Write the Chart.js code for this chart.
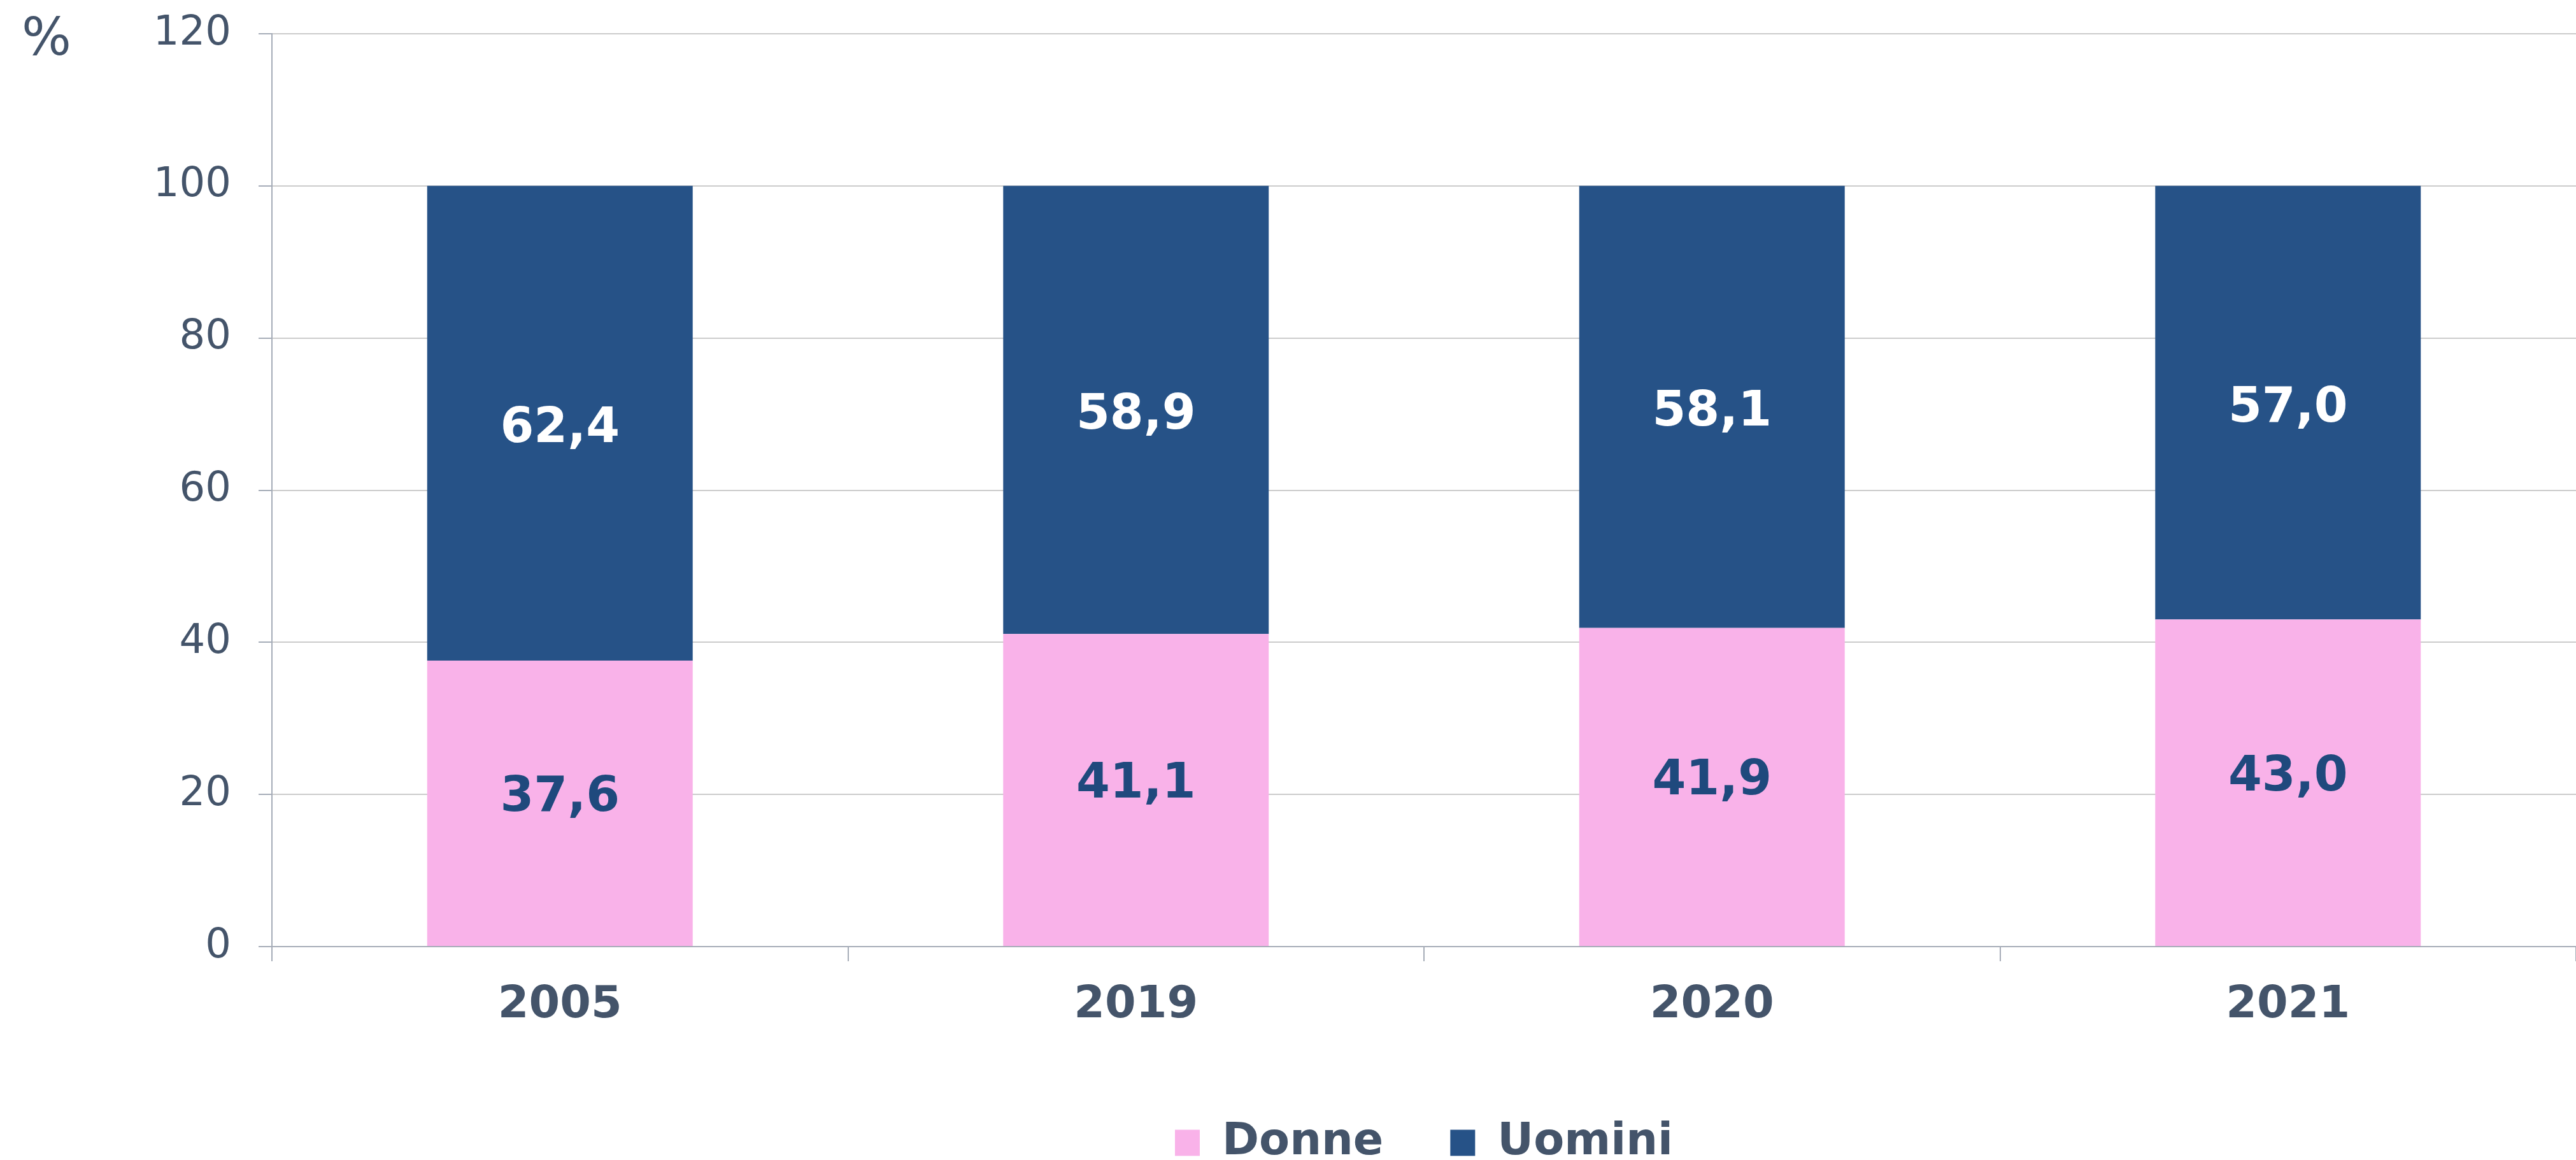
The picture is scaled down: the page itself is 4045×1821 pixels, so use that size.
<!DOCTYPE html>
<html lang="it">
<head>
    <meta charset="UTF-8">
    <title>Donne e Uomini</title>
    <script src="https://cdn.jsdelivr.net/npm/chart.js"></script>
    <style>
        html, body { margin: 0; padding: 0; background: #ffffff; }
        #wrap { width: 4045px; height: 1821px; position: relative; }
    </style>
</head>
<body>
<div id="wrap"><canvas id="chart"></canvas></div>

<script>
// dati
const anni   = ['2005', '2019', '2020', '2021'];
const donne  = [37.6, 41.1, 41.9, 43.0];
const uomini = [62.4, 58.9, 58.1, 57.0];
const yTicks = [0, 20, 40, 60, 80, 100, 120];

const TEXT = '#44546A';
const FONT = 'DejaVu Sans';

// etichette dentro le barre
const etichette = {
    id: 'etichette',
    afterDatasetsDraw(chart) {
        const ctx = chart.ctx;
        ctx.save();
        ctx.font = 'bold 76px "' + FONT + '"';
        ctx.textAlign = 'center';
        ctx.textBaseline = 'middle';
        chart.data.datasets.forEach((ds, i) => {
            const meta = chart.getDatasetMeta(i);
            meta.data.forEach((bar, j) => {
                const v = ds.data[j];
                ctx.fillStyle = ds.labelColor;
                ctx.fillText(v.toFixed(1).replace('.', ','), bar.x, (bar.y + bar.base) / 2 + ds.labelShift);
            });
        });
        ctx.restore();
    }
};

// simbolo % in alto a sinistra
const percento = {
    id: 'percento',
    afterDraw(chart) {
        const ctx = chart.ctx;
        ctx.save();
        ctx.font = '82px "' + FONT + '"';
        ctx.fillStyle = TEXT;
        ctx.textAlign = 'center';
        ctx.textBaseline = 'alphabetic';
        ctx.fillText('%', 73, 86);
        ctx.restore();
    }
};

new Chart(document.getElementById('chart'), {
    type: 'bar',
    data: {
        labels: anni,
        datasets: [
            { label: 'Donne',  data: donne,  backgroundColor: '#F9B2E9', labelColor: '#1F497D', labelShift: -8 },
            { label: 'Uomini', data: uomini, backgroundColor: '#265287', labelColor: '#FFFFFF', labelShift: 10 }
        ]
    },
    options: {
        responsive: true,
        maintainAspectRatio: false,
        animation: false,
        layout: { padding: { top: 53, right: 0, left: 0, bottom: 0 } },
        datasets: { bar: { categoryPercentage: 1.0, barPercentage: 0.461 } },
        scales: {
            x: {
                stacked: true,
                grid: { display: true, drawOnChartArea: false, offset: true, color: '#A6ADB8', tickLength: 23, lineWidth: 2 },
                border: { color: '#A6ADB8', width: 2 },
                ticks: { color: TEXT, font: { family: FONT, size: 70, weight: 'bold' }, padding: 28 },
                afterFit(scale) { scale.height = 168; }
            },
            y: {
                stacked: true,
                min: 0, max: 120,
                afterBuildTicks(scale) { scale.ticks = yTicks.map(v => ({ value: v })); },
                grid: { color: '#CCCCCC', tickColor: '#A6ADB8', tickLength: 21, lineWidth: 2 },
                border: { color: '#A6ADB8', width: 2 },
                ticks: { color: TEXT, font: { family: FONT, size: 64 }, padding: 43 },
                afterFit(scale) {
                    scale.width = 427;
                    scale.paddingTop = 0;
                    scale.paddingBottom = 0;
                }
            }
        },
        plugins: {
            legend: {
                position: 'bottom',
                fullSize: false,
                maxHeight: 167,
                labels: {
                    color: TEXT,
                    font: { family: FONT, size: 70, weight: 'bold' },
                    boxWidth: 39, boxHeight: 41,
                    padding: 105
                }
            },
            tooltip: { enabled: false }
        }
    },
    plugins: [etichette, percento]
});
</script>
</body>
</html>
